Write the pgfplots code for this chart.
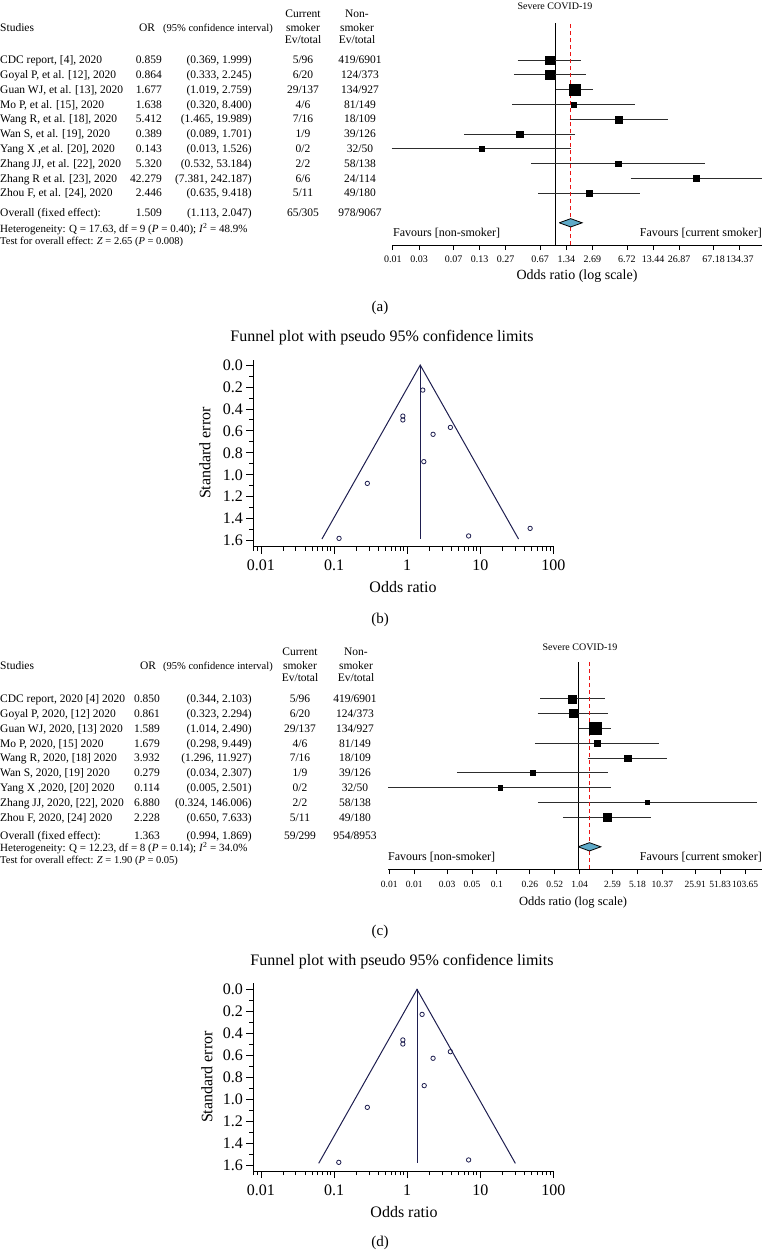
\documentclass[border=0pt]{standalone}
\usepackage{fontspec}
\setmainfont{Liberation Serif}
\usepackage{pgfplots}
\usepackage{pgfplotstable}
\pgfplotsset{compat=1.18}
\definecolor{navy}{RGB}{30,30,80}
\definecolor{dia}{RGB}{95,170,200}
\definecolor{barc}{RGB}{45,45,45}
\definecolor{dashred}{RGB}{235,20,20}
\newcommand{\fs}[1]{\fontsize{#1}{#1}\selectfont}
\tikzset{
 T/.style={inner sep=0pt, font=\fs{11.5}, yshift=-3.6pt},
 tl/.style={T, anchor=base west},
 tr/.style={T, anchor=base east},
 tc/.style={T, anchor=base},
 H/.style={inner sep=0pt, font=\fs{11}, yshift=-3.4pt, anchor=base west},
 myci/.style={line width=0.9pt, barc},
 myvline/.style={black, line width=0.9pt},
 myrline/.style={draw=dashred, line width=1.3pt, dash pattern=on 4pt off 3pt},
 myfline/.style={navy, line width=1pt},
}
\newcommand{\rowA}[6]{%
 \node[tl] at (0pt,-#1pt) {#2};
 \node[tr] at (162pt,-#1pt) {#3};
 \node[tr] at (252pt,-#1pt) {#4};
 \node[tc] at (303pt,-#1pt) {#5};
 \node[tc] at (360pt,-#1pt) {#6};}
\newcommand{\rowC}[6]{%
 \node[tl] at (0pt,-#1pt) {#2};
 \node[tc] at (147pt,-#1pt) {#3};
 \node[tr] at (252pt,-#1pt) {#4};
 \node[tc] at (300pt,-#1pt) {#5};
 \node[tc] at (355pt,-#1pt) {#6};}

\pgfplotstableread{
y or s
-1 0.859 4.2
-2 0.864 4.2
-3 1.677 5.6
-4 1.638 2.6
-5 5.412 3.5
-6 0.389 3.3
-7 0.143 2.7
-8 5.320 2.7
-9 42.279 3.0
-10 2.446 3.2
}\sqA
\pgfplotstableread{
y or s
-1 0.850 4.0
-2 0.861 4.0
-3 1.589 5.8
-4 1.679 3.0
-5 3.932 3.3
-6 0.279 2.5
-7 0.114 2.2
-8 6.880 2.0
-9 2.228 3.7
}\sqC
\pgfplotstableread{
or se
0.873 0.465
0.873 0.500
1.635 0.228
2.26 0.631
3.90 0.568
1.69 0.880
0.285 1.078
0.117 1.579
6.93 1.557
48.1 1.488
}\funB
\pgfplotstableread{
or se
1.60 0.228
0.873 0.461
0.873 0.498
3.90 0.568
2.26 0.628
1.71 0.877
0.285 1.075
0.116 1.576
6.93 1.554
}\funD

\begin{document}
\begin{tikzpicture}
\useasboundingbox (0pt,0pt) rectangle (763pt,-1251pt);

%% ---------------- (a) table ----------------
\node[tl] at (0pt,-28pt) {Studies};
\node[tc] at (147pt,-28pt) {OR};
\node[tc, font=\fs{10.5}] at (218pt,-28pt) {(95\% confidence interval)};
\node[tc] at (303pt,-14pt) {Current};
\node[tc] at (303pt,-28pt) {smoker};
\node[tc] at (303pt,-40pt) {Ev/total};
\node[tc] at (357pt,-14pt) {Non-};
\node[tc] at (357pt,-28pt) {smoker};
\node[tc] at (357pt,-40pt) {Ev/total};
\rowA{60}{CDC report, [4], 2020}{0.859}{(0.369, 1.999)}{5/96}{419/6901}
\rowA{74.8}{Goyal P, et al. [12], 2020}{0.864}{(0.333, 2.245)}{6/20}{124/373}
\rowA{89.6}{Guan WJ, et al. [13], 2020}{1.677}{(1.019, 2.759)}{29/137}{134/927}
\rowA{104.4}{Mo P, et al. [15], 2020}{1.638}{(0.320, 8.400)}{4/6}{81/149}
\rowA{119.2}{Wang R, et al. [18], 2020}{5.412}{(1.465, 19.989)}{7/16}{18/109}
\rowA{134}{Wan S, et al. [19], 2020}{0.389}{(0.089, 1.701)}{1/9}{39/126}
\rowA{148.8}{Yang X ,et al. [20], 2020}{0.143}{(0.013, 1.526)}{0/2}{32/50}
\rowA{163.6}{Zhang JJ, et al. [22], 2020}{5.320}{(0.532, 53.184)}{2/2}{58/138}
\rowA{178.4}{Zhang R et al. [23], 2020}{42.279}{(7.381, 242.187)}{6/6}{24/114}
\rowA{193.2}{Zhou F, et al. [24], 2020}{2.446}{(0.635, 9.418)}{5/11}{49/180}
\rowA{213}{Overall (fixed effect):}{1.509}{(1.113, 2.047)}{65/305}{978/9067}
\node[H] at (0pt,-229pt) {Heterogeneity: Q = 17.63, df = 9 (\textit{P} = 0.40); \textit{I}\textsuperscript{2} = 48.9\%};
\node[H, font=\fs{10.5}] at (0pt,-241pt) {Test for overall effect: \textit{Z} = 2.65 (\textit{P} = 0.008)};

%% ---------------- (a) forest ----------------
\node[font=\fs{10}] at (555pt,-6pt) {Severe COVID-19};
\begin{axis}[scale only axis, anchor=south west, xmode=log, hide y axis,
  axis x line*=bottom, x axis line style={-, line width=0.9pt},
  xminorticks=false, tick align=outside, major tick length=5pt,
  tick style={black, line width=0.9pt},
  xticklabel style={font=\fs{10}, inner sep=2pt, yshift=-4pt},
  clip=false, /pgf/number format/assume math mode=true,
  at={(392.9pt,-245pt)}, width=369.1pt, height=222pt,
  xmin=0.013437, xmax=242.2, ymin=-13.5, ymax=1.5,
  xtick={0.013437,0.026874,0.067185,0.13437,0.26874,0.67185,1.3437,2.6874,6.7185,13.437,26.874,67.185,134.37},
  xticklabels={0.01,0.03,0.07,0.13,0.27,0.67,1.34,2.69,6.72,13.44,26.87,67.18,134.37}]
\addplot[myvline] coordinates {(1,-13.5) (1,1.5)};
\addplot[myci] coordinates {(0.369,-1) (1.999,-1)};
\addplot[myci] coordinates {(0.333,-2) (2.245,-2)};
\addplot[myci] coordinates {(1.019,-3) (2.759,-3)};
\addplot[myci] coordinates {(0.320,-4) (8.400,-4)};
\addplot[myci] coordinates {(1.465,-5) (19.989,-5)};
\addplot[myci] coordinates {(0.089,-6) (1.701,-6)};
\addplot[myci] coordinates {(0.013,-7) (1.526,-7)};
\addplot[myci] coordinates {(0.532,-8) (53.184,-8)};
\addplot[myci] coordinates {(7.381,-9) (242.187,-9)};
\addplot[myci] coordinates {(0.635,-10) (9.418,-10)};
\addplot[scatter, only marks, mark=square*,
   scatter/use mapped color={draw=black,fill=black},
   visualization depends on={\thisrow{s}\as\ms},
   scatter/@pre marker code/.append style={/tikz/mark size=\ms}] table[x=or,y=y] {\sqA};
\addplot[myrline] coordinates {(1.509,-13.5) (1.509,1.5)};
\addplot[fill=dia, draw=black, line width=0.8pt] coordinates {(1.113,-12) (1.509,-11.72) (2.047,-12) (1.509,-12.28) (1.113,-12)};
\end{axis}
\node[anchor=west, font=\fs{12}, inner sep=0pt] at (393pt,-233pt) {Favours [non-smoker]};
\node[anchor=east, font=\fs{12}, inner sep=0pt] at (762pt,-233pt) {Favours [current smoker]};
\node[font=\fs{14}] at (577pt,-276pt) {Odds ratio (log scale)};
\node[font=\fs{15}] at (380pt,-308pt) {(a)};

%% ---------------- (b) funnel ----------------
\node[font=\fs{16}] at (382pt,-338pt) {Funnel plot with pseudo 95\% confidence limits};
\begin{axis}[scale only axis, anchor=south west, xmode=log, y dir=reverse,
   axis x line*=bottom, axis y line*=left, axis line style={-, line width=0.9pt},
   xtick={0.01,0.1,1,10,100}, xticklabels={0.01,0.1,1,10,100},
   minor xtick={0.008,0.009,0.02,0.03,0.04,0.05,0.06,0.07,0.08,0.09,0.2,0.3,0.4,0.5,0.6,0.7,0.8,0.9,2,3,4,5,6,7,8,9,20,30,40,50,60,70,80,90},
   ytick={0,0.2,0.4,0.6,0.8,1,1.2,1.4,1.6},
   yticklabels={0.0,0.2,0.4,0.6,0.8,1.0,1.2,1.4,1.6},
   minor ytick={0.1,0.3,0.5,0.7,0.9,1.1,1.3,1.5},
   tick align=outside, major tick length=7pt, minor tick length=4pt,
   tick style={black, line width=0.9pt},
   ticklabel style={font=\fs{16}}, xticklabel style={yshift=-3pt},
   xmin=0.00785, xmax=102, ymax=1.655, clip=false,
   /pgf/number format/assume math mode=true,
   at={(253.3pt,-546.7pt)}, width=300.7pt, height=186.7pt, ymin=-0.046]
\addplot[myfline] coordinates {(0.0682,1.585) (1.509,0) (33.4,1.585)};
\addplot[myfline] coordinates {(1.509,0) (1.509,1.585)};
\addplot[navy, only marks, mark=o, mark size=2.2, mark options={line width=0.8pt}] table[x=or,y=se] {\funB};
\end{axis}
\node[font=\fs{16}, rotate=90] at (205pt,-453pt) {Standard error};
\node[font=\fs{16}] at (403pt,-587pt) {Odds ratio};
\node[font=\fs{15}] at (380pt,-620pt) {(b)};

%% ---------------- (c) table ----------------
\node[tl] at (0pt,-666pt) {Studies};
\node[tc] at (148pt,-666pt) {OR};
\node[tc, font=\fs{10.5}] at (218pt,-666pt) {(95\% confidence interval)};
\node[tc] at (300pt,-652pt) {Current};
\node[tc] at (300pt,-666pt) {smoker};
\node[tc] at (300pt,-678pt) {Ev/total};
\node[tc] at (356pt,-652pt) {Non-};
\node[tc] at (356pt,-666pt) {smoker};
\node[tc] at (356pt,-678pt) {Ev/total};
\rowC{699}{CDC report, 2020 [4] 2020}{0.850}{(0.344, 2.103)}{5/96}{419/6901}
\rowC{713.8}{Goyal P, 2020, [12] 2020}{0.861}{(0.323, 2.294)}{6/20}{124/373}
\rowC{728.6}{Guan WJ, 2020, [13] 2020}{1.589}{(1.014, 2.490)}{29/137}{134/927}
\rowC{743.4}{Mo P, 2020, [15] 2020}{1.679}{(0.298, 9.449)}{4/6}{81/149}
\rowC{758.2}{Wang R, 2020, [18] 2020}{3.932}{(1.296, 11.927)}{7/16}{18/109}
\rowC{773}{Wan S, 2020, [19] 2020}{0.279}{(0.034, 2.307)}{1/9}{39/126}
\rowC{787.8}{Yang X ,2020, [20] 2020}{0.114}{(0.005, 2.501)}{0/2}{32/50}
\rowC{802.6}{Zhang JJ, 2020, [22], 2020}{6.880}{(0.324, 146.006)}{2/2}{58/138}
\rowC{817.4}{Zhou F, 2020, [24] 2020}{2.228}{(0.650, 7.633)}{5/11}{49/180}
\rowC{836}{Overall (fixed effect):}{1.363}{(0.994, 1.869)}{59/299}{954/8953}
\node[H] at (0pt,-848pt) {Heterogeneity: Q = 12.23, df = 8 (\textit{P} = 0.14); \textit{I}\textsuperscript{2} = 34.0\%};
\node[H, font=\fs{10.5}] at (0pt,-860pt) {Test for overall effect: \textit{Z} = 1.90 (\textit{P} = 0.05)};

%% ---------------- (c) forest ----------------
\node[font=\fs{10}] at (580pt,-647pt) {Severe COVID-19};
\begin{axis}[scale only axis, anchor=south west, xmode=log, hide y axis,
  axis x line*=bottom, x axis line style={-, line width=0.9pt},
  xminorticks=false, tick align=outside, major tick length=5pt,
  tick style={black, line width=0.9pt},
  xticklabel style={font=\fs{9.5}, inner sep=2pt, yshift=-5pt},
  clip=false, /pgf/number format/assume math mode=true,
  at={(388pt,-869pt)}, width=374pt, height=207.2pt,
  xmin=0.005, xmax=166, ymin=-12.5, ymax=1.5,
  xtick={0.0051825,0.010365,0.0259125,0.051825,0.10365,0.259125,0.51825,1.0365,2.59125,5.1825,10.365,25.9125,51.825,103.65},
  xticklabels={0.01,0.01,0.03,0.05,0.1,0.26,0.52,1.04,2.59,5.18,10.37,25.91,51.83,103.65}]
\addplot[myvline] coordinates {(1,-12.5) (1,1.5)};
\addplot[myci] coordinates {(0.344,-1) (2.103,-1)};
\addplot[myci] coordinates {(0.323,-2) (2.294,-2)};
\addplot[myci] coordinates {(1.014,-3) (2.490,-3)};
\addplot[myci] coordinates {(0.298,-4) (9.449,-4)};
\addplot[myci] coordinates {(1.296,-5) (11.927,-5)};
\addplot[myci] coordinates {(0.034,-6) (2.307,-6)};
\addplot[myci] coordinates {(0.005,-7) (2.501,-7)};
\addplot[myci] coordinates {(0.324,-8) (146.006,-8)};
\addplot[myci] coordinates {(0.650,-9) (7.633,-9)};
\addplot[scatter, only marks, mark=square*,
   scatter/use mapped color={draw=black,fill=black},
   visualization depends on={\thisrow{s}\as\ms},
   scatter/@pre marker code/.append style={/tikz/mark size=\ms}] table[x=or,y=y] {\sqC};
\addplot[myrline] coordinates {(1.363,-12.5) (1.363,1.5)};
\addplot[fill=dia, draw=black, line width=0.8pt] coordinates {(0.994,-11) (1.363,-10.72) (1.869,-11) (1.363,-11.28) (0.994,-11)};
\end{axis}
\node[anchor=west, font=\fs{12}, inner sep=0pt] at (388pt,-857pt) {Favours [non-smoker]};
\node[anchor=east, font=\fs{12}, inner sep=0pt] at (762pt,-857pt) {Favours [current smoker]};
\node[font=\fs{12.5}] at (573pt,-902pt) {Odds ratio (log scale)};
\node[font=\fs{15}] at (380pt,-932pt) {(c)};

%% ---------------- (d) funnel ----------------
\node[font=\fs{16}] at (402pt,-962pt) {Funnel plot with pseudo 95\% confidence limits};
\begin{axis}[scale only axis, anchor=south west, xmode=log, y dir=reverse,
   axis x line*=bottom, axis y line*=left, axis line style={-, line width=0.9pt},
   xtick={0.01,0.1,1,10,100}, xticklabels={0.01,0.1,1,10,100},
   minor xtick={0.008,0.009,0.02,0.03,0.04,0.05,0.06,0.07,0.08,0.09,0.2,0.3,0.4,0.5,0.6,0.7,0.8,0.9,2,3,4,5,6,7,8,9,20,30,40,50,60,70,80,90},
   ytick={0,0.2,0.4,0.6,0.8,1,1.2,1.4,1.6},
   yticklabels={0.0,0.2,0.4,0.6,0.8,1.0,1.2,1.4,1.6},
   minor ytick={0.1,0.3,0.5,0.7,0.9,1.1,1.3,1.5},
   tick align=outside, major tick length=7pt, minor tick length=4pt,
   tick style={black, line width=0.9pt},
   ticklabel style={font=\fs{16}}, xticklabel style={yshift=-3pt},
   xmin=0.00785, xmax=102, ymax=1.655, clip=false,
   /pgf/number format/assume math mode=true,
   at={(253.3pt,-1171pt)}, width=300.7pt, height=187.7pt, ymin=-0.055]
\addplot[myfline] coordinates {(0.0616,1.585) (1.363,0) (30.2,1.585)};
\addplot[myfline] coordinates {(1.363,0) (1.363,1.585)};
\addplot[navy, only marks, mark=o, mark size=2.2, mark options={line width=0.8pt}] table[x=or,y=se] {\funD};
\end{axis}
\node[font=\fs{16}, rotate=90] at (207pt,-1077pt) {Standard error};
\node[font=\fs{16}] at (404pt,-1212pt) {Odds ratio};
\node[font=\fs{15}] at (380pt,-1243pt) {(d)};
\end{tikzpicture}
\end{document}
